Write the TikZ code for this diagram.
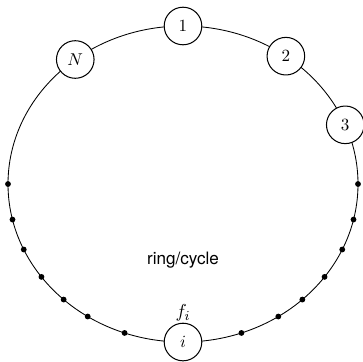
\documentclass[tikz,border=0pt]{standalone}
\usepackage{fontspec}
\newfontfamily\helv{TeX Gyre Heros}
\begin{document}
\begin{tikzpicture}[x=0.585pt,y=-0.585pt,
  ringnode/.style={circle,draw,line width=0.6pt,fill=white,minimum size=22pt,inner sep=0pt,font=\fontsize{10}{12}\selectfont},
  ringdot/.style={circle,fill=black,inner sep=0pt,minimum size=3.4pt},
  ringline/.style={line width=0.5pt}]
\useasboundingbox (0,0) rectangle (363,361);
\coordinate (c) at (183,184);
\draw[ringline] (c) ellipse [x radius=175, y radius=158];
\foreach \a [count=\k] in {0,13,24.5,36,47,57,70.5}{
  \path (c) ++(\a:175 and 158) node[ringdot] (r\k) {};
  \path (c) ++(180-\a:175 and 158) node[ringdot] (l\k) {};
}
\path (c) ++(-90:175 and 158) node[ringnode] (n1) {$1$};
\path (c) ++(-54:175 and 158) node[ringnode] (n2) {$2$};
\path (c) ++(-22:175 and 158) node[ringnode] (n3) {$3$};
\path (c) ++(-128:175 and 158) node[ringnode] (nN) {$N$};
\path (c) ++(90:175 and 158) node[ringnode] (ni) {$i$};
\node[above=-2.5pt,font=\fontsize{11}{13}\selectfont] (fi) at (ni.north) {$f_i$};
\node[font=\helv\fontsize{10}{12}\selectfont] (lbl) at (183,260) {ring/cycle};
\end{tikzpicture}
\end{document}
